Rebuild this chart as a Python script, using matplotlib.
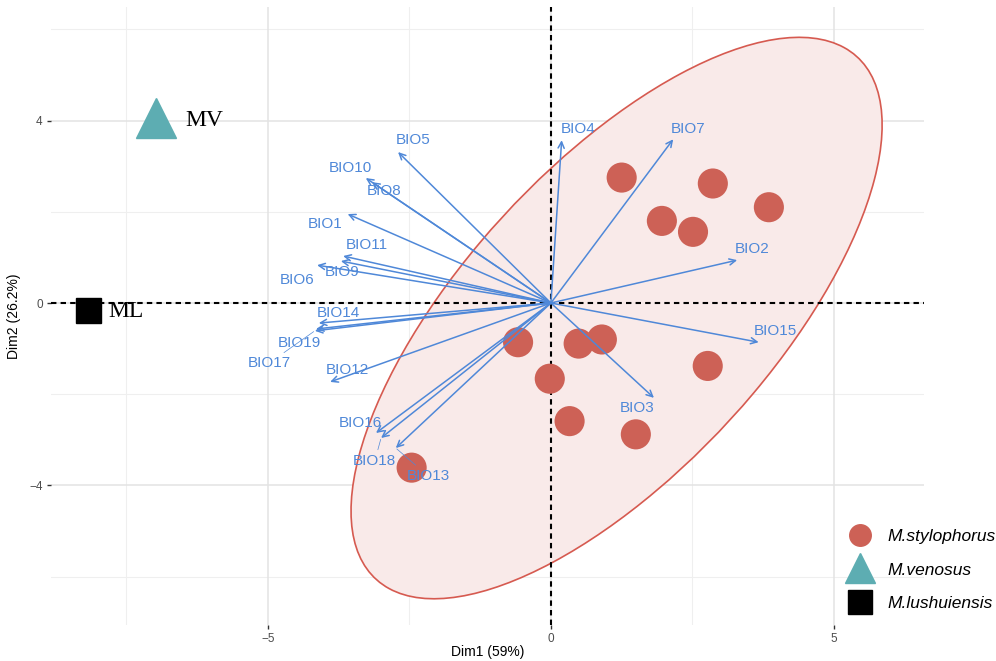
import numpy as np
import matplotlib
matplotlib.use("Agg")
import matplotlib.pyplot as plt
from matplotlib.patches import Ellipse
from matplotlib.lines import Line2D

# ---------------- data ----------------
sty_x = [1.25, 2.86, 3.85, 1.96, 2.51, -0.58, 0.49, 0.90, 2.77, -0.02, 0.33, 1.50, -2.46]
sty_y = [2.75, 2.62, 2.10, 1.80, 1.56, -0.86, -0.89, -0.80, -1.38, -1.66, -2.59, -2.88, -3.61]
mv_xy = (-6.98, 4.05)
ml_xy = (-8.17, -0.16)

var_names = ["BIO1", "BIO2", "BIO3", "BIO4", "BIO5", "BIO6", "BIO7", "BIO8", "BIO9", "BIO10",
             "BIO11", "BIO12", "BIO13", "BIO14", "BIO15", "BIO16", "BIO17", "BIO18", "BIO19"]
var_x = [-3.59, 3.29, 1.82, 0.19, -2.70, -4.13, 2.16, -3.16, -3.71, -3.27,
         -3.67, -3.90, -2.74, -4.10, 3.67, -3.09, -4.17, -3.00, -4.15]
var_y = [1.95, 0.94, -2.08, 3.57, 3.31, 0.83, 3.59, 2.65, 0.92, 2.74,
         1.03, -1.73, -3.18, -0.44, -0.86, -2.85, -0.61, -2.96, -0.57]
# label placement (repelled)
lab_x = [-3.98, 3.55, 1.52, 0.48, -2.44, -4.49, 2.42, -2.95, -3.69, -3.55,
         -3.25, -3.60, -2.17, -3.75, 3.96, -3.37, -4.98, -3.11, -4.45]
lab_y = [1.73, 1.18, -2.30, 3.82, 3.57, 0.50, 3.82, 2.46, 0.68, 2.96,
         1.27, -1.47, -3.79, -0.22, -0.61, -2.63, -1.32, -3.46, -0.88]
leader = ["BIO13", "BIO17", "BIO18"]

# confidence ellipse (center and covariance-like shape)
ell_center = (1.16, -0.33)
ell_cov = [[22.0, 19.85], [19.85, 37.88]]

legend_labels = ["M.stylophorus", "M.venosus", "M.lushuiensis"]

# ---------------- style ----------------
c_red = "#CD6156"
c_teal = "#5DADB2"
c_blue = "#4F88D8"
c_fill = "#F9EAE9"
c_edge = "#D65A50"

plt.rcParams['font.family'] = ['Liberation Sans', 'DejaVu Sans']

fig = plt.figure(figsize=(9.96, 6.61), dpi=100)
ax = fig.add_axes([51 / 996, 36 / 661, (924 - 51) / 996, (654 - 36) / 661])
ax.set_xlim(-8.83, 6.59)
ax.set_ylim(-7.06, 6.49)

# grid
for v in [-7.5, -2.5, 2.5]:
    ax.axvline(v, color="#EFEFEF", lw=0.8, zorder=0)
for v in [-6, -2, 2, 6]:
    ax.axhline(v, color="#EFEFEF", lw=0.8, zorder=0)
for v in [-5, 0, 5]:
    ax.axvline(v, color="#E3E3E3", lw=1.1, zorder=0)
for v in [-4, 0, 4]:
    ax.axhline(v, color="#E3E3E3", lw=1.1, zorder=0)

# ellipse
vals, vecs = np.linalg.eigh(np.array(ell_cov))
order = vals.argsort()[::-1]
vals, vecs = vals[order], vecs[:, order]
angle = np.degrees(np.arctan2(vecs[1, 0], vecs[0, 0]))
ell = Ellipse(ell_center, 2 * np.sqrt(vals[0]), 2 * np.sqrt(vals[1]), angle=angle,
              facecolor=c_fill, edgecolor=c_edge, lw=1.2, zorder=1)
ax.add_patch(ell)

# dashed axes
ax.axhline(0, color="black", lw=1.5, ls=(0, (2.6, 2.0)), zorder=2)
ax.axvline(0, color="black", lw=1.5, ls=(0, (2.6, 2.0)), zorder=2)

# points
ax.scatter(sty_x, sty_y, s=470, color=c_red, edgecolors="none", zorder=3)
ax.plot([mv_xy[0]], [mv_xy[1]], marker="^", ms=29, color=c_teal, ls="none", zorder=3)
ax.plot([ml_xy[0]], [ml_xy[1]], marker="s", ms=18, color="black", ls="none", zorder=3)
ax.text(mv_xy[0] + 0.52, mv_xy[1] - 0.04, "MV", family=["Liberation Serif"], fontsize=17,
        ha="left", va="center", zorder=4)
ax.text(ml_xy[0] + 0.35, ml_xy[1] - 0.03, "ML", family=["Liberation Serif"], fontsize=17,
        ha="left", va="center", zorder=4)

# variable arrows
for name, x, y, lx, ly in zip(var_names, var_x, var_y, lab_x, lab_y):
    ax.annotate("", xy=(x, y), xytext=(0, 0),
                arrowprops=dict(arrowstyle="->,head_length=0.45,head_width=0.22",
                                color=c_blue, lw=1.1, shrinkA=0, shrinkB=0), zorder=4)
    if name in leader:
        ax.annotate(name, xy=(x, y), xytext=(lx, ly), color=c_blue, fontsize=11,
                    ha="center", va="center", zorder=5,
                    arrowprops=dict(arrowstyle="-", color=c_blue, lw=0.5, shrinkA=1, shrinkB=1))
    else:
        ax.text(lx, ly, name, color=c_blue, fontsize=11, ha="center", va="center", zorder=5)

# axes styling
for s in ax.spines.values():
    s.set_visible(False)
ax.set_xticks([-5, 0, 5])
ax.set_yticks([-4, 0, 4])
ax.set_xticklabels(["\u22125", "0", "5"])
ax.set_yticklabels(["\u22124", "0", "4"])
ax.tick_params(axis="both", length=3, width=1, color="#333333", labelcolor="#4D4D4D",
               labelsize=8.5, pad=3)
ax.set_xlabel("Dim1 (59%)", fontsize=10, labelpad=0)
ax.set_ylabel("Dim2 (26.2%)", fontsize=10, labelpad=6)

# legend
handles = [
    Line2D([], [], marker="o", ms=15.5, color=c_red, ls="none"),
    Line2D([], [], marker="^", ms=21, color=c_teal, ls="none"),
    Line2D([], [], marker="s", ms=17, color="black", ls="none"),
]
leg = fig.legend(handles, legend_labels, loc="upper left",
                 bbox_to_anchor=(848 / 996, (661 - 529) / 661), frameon=False,
                 prop=dict(style="italic", size=12.5), labelspacing=1.05,
                 handlelength=1.4, handletextpad=0.9, borderpad=0, borderaxespad=0)

fig.savefig("out.png", dpi=100, facecolor="white")
